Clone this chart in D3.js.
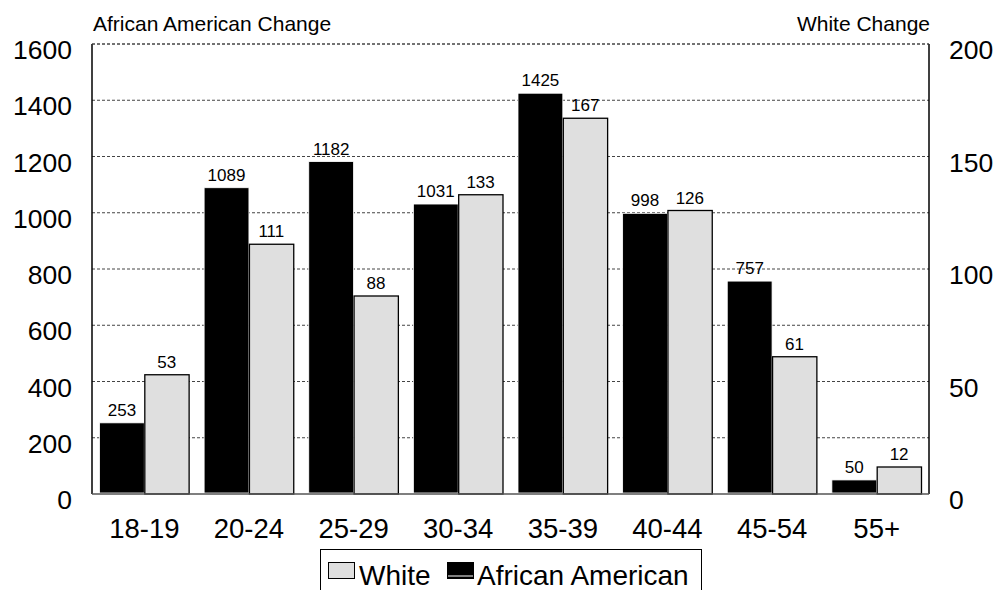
<!DOCTYPE html>
<html>
<head>
<meta charset="utf-8">
<script src="https://cdn.jsdelivr.net/npm/d3@7"></script>
<style>
  html, body { margin: 0; padding: 0; background: #fff; }
  svg { display: block; font-family: "Liberation Sans", Arial, sans-serif; }
</style>
</head>
<body>
<svg id="chart" width="1001" height="590"></svg>
<script>
// Age groups and population change by race
const categories = ["18-19", "20-24", "25-29", "30-34", "35-39", "40-44", "45-54", "55+"];
const africanAmerican = [253, 1089, 1182, 1031, 1425, 998, 757, 50];
const white = [53, 111, 88, 133, 167, 126, 61, 12];
const leftTicks = [0, 200, 400, 600, 800, 1000, 1200, 1400, 1600];
const rightTicks = [0, 50, 100, 150, 200];

const svg = d3.select("#chart");
const m = { left: 92, right: 929, top: 44, bottom: 494 };

const x = d3.scaleBand().domain(categories).range([m.left, m.right])
  .paddingInner(0.1434).paddingOuter(0.0717);
const yL = d3.scaleLinear().domain([0, 1600]).range([m.bottom, m.top]);
const yR = d3.scaleLinear().domain([0, 200]).range([m.bottom, m.top]);

// dashed gridlines
svg.append("g").selectAll("line").data(leftTicks.filter(d => d > 0))
  .join("line")
  .attr("x1", m.left).attr("x2", m.right)
  .attr("y1", d => yL(d)).attr("y2", d => yL(d))
  .attr("stroke", "#444").attr("stroke-width", 1).attr("stroke-dasharray", "3,2");

const bw = x.bandwidth() / 2;
const rows = categories.map((c, i) => ({ c, aa: africanAmerican[i], w: white[i] }));

const g = svg.append("g");
// African American bars (left axis)
g.selectAll("rect.aa").data(rows).join("rect")
  .attr("class", "aa")
  .attr("x", d => x(d.c)).attr("width", bw)
  .attr("y", d => yL(d.aa)).attr("height", d => yL(0) - yL(d.aa) - 1)
  .attr("fill", "#000").attr("stroke", "#fff").attr("stroke-width", 0.8);
// White bars (right axis)
g.selectAll("rect.w").data(rows).join("rect")
  .attr("class", "w")
  .attr("x", d => x(d.c) + bw + 0.5).attr("width", bw - 0.5)
  .attr("y", d => yR(d.w)).attr("height", d => yR(0) - yR(d.w))
  .attr("fill", "#dfdfdf").attr("stroke", "#000").attr("stroke-width", 1.3);

// value labels
g.selectAll("text.aa").data(rows).join("text")
  .attr("x", d => x(d.c) + bw / 2).attr("y", d => yL(d.aa) - 7)
  .attr("text-anchor", "middle").attr("font-size", 17).text(d => d.aa);
g.selectAll("text.w").data(rows).join("text")
  .attr("x", d => x(d.c) + bw * 1.5).attr("y", d => yR(d.w) - 7)
  .attr("text-anchor", "middle").attr("font-size", 17).text(d => d.w);

// frame
svg.append("line").attr("x1", m.left).attr("x2", m.left).attr("y1", m.top).attr("y2", m.bottom).attr("stroke", "#000").attr("stroke-width", 1.5);
svg.append("line").attr("x1", m.right).attr("x2", m.right).attr("y1", m.top).attr("y2", m.bottom).attr("stroke", "#000").attr("stroke-width", 1.5);
svg.append("line").attr("x1", m.left).attr("x2", m.right).attr("y1", m.top).attr("y2", m.top).attr("stroke", "#444").attr("stroke-dasharray", "3,2");
svg.append("line").attr("x1", m.left).attr("x2", m.right).attr("y1", m.bottom).attr("y2", m.bottom).attr("stroke", "#555").attr("stroke-width", 1.5);

// axes
const axL = svg.append("g").attr("transform", `translate(${m.left},0)`)
  .call(d3.axisLeft(yL).tickValues(leftTicks).tickFormat(d3.format("d")).tickSize(0).tickPadding(20));
const axR = svg.append("g").attr("transform", `translate(${m.right},0)`)
  .call(d3.axisRight(yR).tickValues(rightTicks).tickFormat(d3.format("d")).tickSize(0).tickPadding(20));
const axB = svg.append("g").attr("transform", `translate(0,${m.bottom})`)
  .call(d3.axisBottom(x).tickSize(0).tickPadding(24));
[axL, axR].forEach(a => {
  a.select(".domain").remove();
  a.selectAll("text").attr("font-size", 26.5).attr("fill", "#000").attr("dy", "0.55em")
    .attr("font-family", "Liberation Sans, Arial, sans-serif");
});
axB.select(".domain").remove();
axB.selectAll("text").attr("font-size", 27.5).attr("fill", "#000")
  .attr("font-family", "Liberation Sans, Arial, sans-serif");

// axis titles
svg.append("text").attr("x", 93).attr("y", 31).attr("font-size", 21).text("African American Change");
svg.append("text").attr("x", 930).attr("y", 31).attr("font-size", 21).attr("text-anchor", "end").text("White Change");

// legend
const lg = svg.append("g");
lg.append("rect").attr("x", 320.5).attr("y", 549.5).attr("width", 381).attr("height", 60)
  .attr("fill", "#fff").attr("stroke", "#000").attr("stroke-width", 1);
lg.append("rect").attr("x", 328.5).attr("y", 562.5).attr("width", 26).attr("height", 16)
  .attr("fill", "#dfdfdf").attr("stroke", "#000");
lg.append("text").attr("x", 359).attr("y", 585).attr("font-size", 28).text("White");
lg.append("rect").attr("x", 447.5).attr("y", 562.5).attr("width", 26).attr("height", 16)
  .attr("fill", "#000").attr("stroke", "#000");
lg.append("line").attr("x1", 448).attr("x2", 473).attr("y1", 576).attr("y2", 576)
  .attr("stroke", "#fff").attr("stroke-width", 1);
lg.append("text").attr("x", 477).attr("y", 585).attr("font-size", 28).text("African American");
</script>
</body>
</html>
